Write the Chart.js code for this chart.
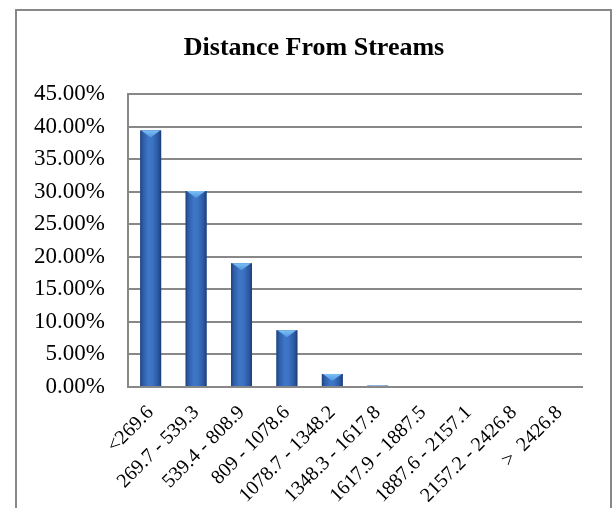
<!DOCTYPE html>
<html>
<head>
<meta charset="utf-8">
<script src="https://cdn.jsdelivr.net/npm/chart.js@4/dist/chart.umd.min.js"></script>
<style>
  html, body { margin: 0; padding: 0; background: #fff; }
  #wrap { width: 613px; height: 508px; }
</style>
</head>
<body>
<div id="wrap"><canvas id="streamsChart" width="613" height="508"></canvas></div>
<script>
// distance classes (m) and share of area in each class (%)
const distanceClasses = ['<269.6', '269.7 - 539.3', '539.4 - 808.9', '809 - 1078.6', '1078.7 - 1348.2',
  '1348.3 - 1617.8', '1617.9 - 1887.5', '1887.6 - 2157.1', '2157.2 - 2426.8', '>  2426.8'];
const areaShare = [39.4, 30.1, 19.0, 8.7, 2.0, 0.2, 0, 0, 0, 0];
const axisMax = 45;
const axisStep = 5;

const chartTitle = 'Distance From Streams';
const serif = '"Liberation Serif", "Times New Roman", serif';
const frameGray = '#888888';

// outer frame + title
const framePlugin = {
  id: 'frameTitle',
  beforeDraw(chart) {
    const ctx = chart.ctx;
    ctx.save();
    ctx.strokeStyle = frameGray;
    ctx.lineWidth = 2;
    ctx.beginPath();
    ctx.moveTo(16, 512);
    ctx.lineTo(16, 10);
    ctx.lineTo(611, 10);
    ctx.lineTo(611, 512);
    ctx.stroke();
    ctx.fillStyle = '#000';
    ctx.font = 'bold 26px ' + serif;
    ctx.textAlign = 'center';
    ctx.textBaseline = 'alphabetic';
    ctx.fillText(chartTitle, 314, 55);
    ctx.restore();
  }
};

// shaded column look: dark edges, lighter middle, pale wedge on top
const columnPlugin = {
  id: 'columnShade',
  afterDatasetsDraw(chart) {
    const ctx = chart.ctx;
    const meta = chart.getDatasetMeta(0);
    ctx.save();
    meta.data.forEach(bar => {
      const h = bar.base - bar.y;
      if (h <= 0.3) return;
      const left = bar.x - bar.width / 2;
      const right = bar.x + bar.width / 2;
      const g = ctx.createLinearGradient(left, 0, right, 0);
      g.addColorStop(0, '#1d3f78');
      g.addColorStop(0.12, '#2d5ca6');
      g.addColorStop(0.4, '#3f77c8');
      g.addColorStop(0.6, '#3b72c2');
      g.addColorStop(0.88, '#2a559c');
      g.addColorStop(1, '#1b3a70');
      ctx.fillStyle = g;
      ctx.fillRect(left, bar.y, bar.width, h);

      const depth = Math.min(7, h);
      const tg = ctx.createLinearGradient(0, bar.y, 0, bar.y + depth);
      tg.addColorStop(0, '#7cc0f4');
      tg.addColorStop(1, '#4f95de');
      ctx.fillStyle = tg;
      ctx.beginPath();
      ctx.moveTo(left + 1, bar.y);
      ctx.lineTo(right - 1, bar.y);
      ctx.lineTo(bar.x, bar.y + depth);
      ctx.closePath();
      ctx.fill();
    });
    ctx.restore();
  }
};

new Chart('streamsChart', {
  type: 'bar',
  data: {
    labels: distanceClasses,
    datasets: [{
      data: areaShare,
      backgroundColor: '#3a6cb8',
      borderWidth: 0,
      barPercentage: 0.46,
      categoryPercentage: 1
    }]
  },
  options: {
    responsive: false,
    animation: false,
    layout: { padding: { left: 16, right: 31, top: 94, bottom: 0 } },
    plugins: {
      legend: { display: false },
      title: { display: false },
      tooltip: { enabled: false }
    },
    scales: {
      x: {
        grid: { display: false },
        border: { display: true, color: frameGray, width: 2 },
        ticks: {
          color: '#000',
          font: { family: serif, size: 20 },
          minRotation: 45,
          maxRotation: 45,
          autoSkip: false,
          padding: 6
        },
        afterFit: s => { s.height = 121; }
      },
      y: {
        min: 0,
        max: axisMax,
        grid: { color: frameGray, lineWidth: 2, drawTicks: false },
        border: { display: true, color: frameGray, width: 2 },
        ticks: {
          stepSize: axisStep,
          color: '#000',
          font: { family: serif, size: 23 },
          padding: 23,
          callback: v => v.toFixed(2) + '%'
        },
        afterFit: s => { s.width = 112; }
      }
    }
  },
  plugins: [framePlugin, columnPlugin]
});
</script>
</body>
</html>
